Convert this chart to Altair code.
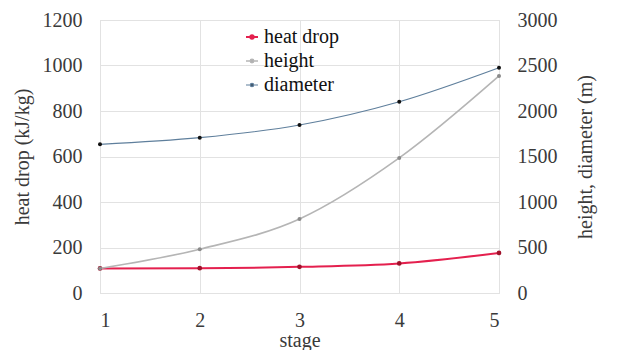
import altair as alt
import pandas as pd

stages = [1, 2, 3, 4, 5]
heat_drop = [108, 109, 115, 130, 176]
height = [270, 481, 813, 1484, 2385]
diameter = [1634, 1707, 1846, 2102, 2476]
series_names = ["heat drop", "height", "diameter"]
line_colors = ["#e4204e", "#b5b5b5", "#5f7f9c"]
point_colors = ["#a0102a", "#8a8a8a", "#111111"]
line_widths = [2.0, 1.2, 1.2]
left_ticks = [0, 200, 400, 600, 800, 1000, 1200]
right_ticks = [0, 500, 1000, 1500, 2000, 2500, 3000]

left_df = pd.DataFrame({"stage": stages, "value": heat_drop, "series": "heat drop"})
right_df = pd.concat([
    pd.DataFrame({"stage": stages, "value": height, "series": "height"}),
    pd.DataFrame({"stage": stages, "value": diameter, "series": "diameter"}),
])

FONT = "Times New Roman, Liberation Serif, serif"
TXT = "#3a3a3a"
FS = 20

x = alt.X("stage:Q", scale=alt.Scale(domain=[1, 5], nice=False, zero=False),
          axis=alt.Axis(values=stages, title="stage", format="d", labelPadding=17,
                        titlePadding=0, grid=True, ticks=False, domain=False,
                        labelFont=FONT, titleFont=FONT))

stroke = alt.Stroke("series:N", scale=alt.Scale(domain=series_names, range=line_colors),
                    legend=alt.Legend(title=None, orient="none", legendX=142, legendY=7,
                                      symbolType="M-1,0H1M-0.28,0A0.28,0.28,0,1,0,0.28,0A0.28,0.28,0,1,0,-0.28,0Z",
                                      symbolSize=144, symbolStrokeWidth=1.5, symbolFillColor="#222222",
                                      labelFontSize=FS, labelFont=FONT, labelColor="#111111",
                                      labelOffset=2, rowPadding=4))
fill = alt.Fill("series:N", scale=alt.Scale(domain=series_names, range=point_colors), legend=None)
sw = alt.StrokeWidth("series:N", scale=alt.Scale(domain=series_names, range=line_widths), legend=None)

yl = alt.Y("value:Q", scale=alt.Scale(domain=[0, 1200], nice=False),
           axis=alt.Axis(values=left_ticks, title="heat drop (kJ/kg)", orient="left", grid=True, format="d",
                         ticks=False, domain=False, labelPadding=18, titlePadding=10,
                         labelFont=FONT, titleFont=FONT))
yr = alt.Y("value:Q", scale=alt.Scale(domain=[0, 3000], nice=False),
           axis=alt.Axis(values=right_ticks, title="height, diameter (m)", orient="right", grid=False, format="d",
                         ticks=False, domain=False, labelPadding=18, titlePadding=38, titleAngle=270,
                         labelFont=FONT, titleFont=FONT))

left_line = alt.Chart(left_df).mark_line(interpolate="monotone").encode(x=x, y=yl, stroke=stroke, strokeWidth=sw)
left_pts = alt.Chart(left_df).mark_point(filled=True, size=22, opacity=1).encode(x=x, y=yl, fill=fill)
right_line = alt.Chart(right_df).mark_line(interpolate="monotone").encode(x=x, y=yr, stroke=stroke, strokeWidth=sw)
right_pts = alt.Chart(right_df).mark_point(filled=True, size=16, opacity=1).encode(x=x, y=yr, fill=fill)

left = alt.layer(left_line, left_pts)
right = alt.layer(right_line, right_pts)

chart = alt.layer(left, right).resolve_scale(y="independent").properties(
    width=399, height=273,
    autosize=alt.AutoSizeParams(type="none"),
    padding={"left": 100, "top": 20, "right": 123, "bottom": 57},
).configure(background="white", font=FONT).configure_view(stroke="#d9d9d9", strokeWidth=1).configure_axis(
    labelFont=FONT, titleFont=FONT, labelFontSize=FS, titleFontSize=FS, labelColor=TXT, titleColor=TXT,
    titleFontWeight="normal", gridColor="#e2e2e2", gridWidth=1,
).configure_legend(labelFont=FONT)

chart.save("out.html", embed_options={"renderer": "svg", "actions": False})
